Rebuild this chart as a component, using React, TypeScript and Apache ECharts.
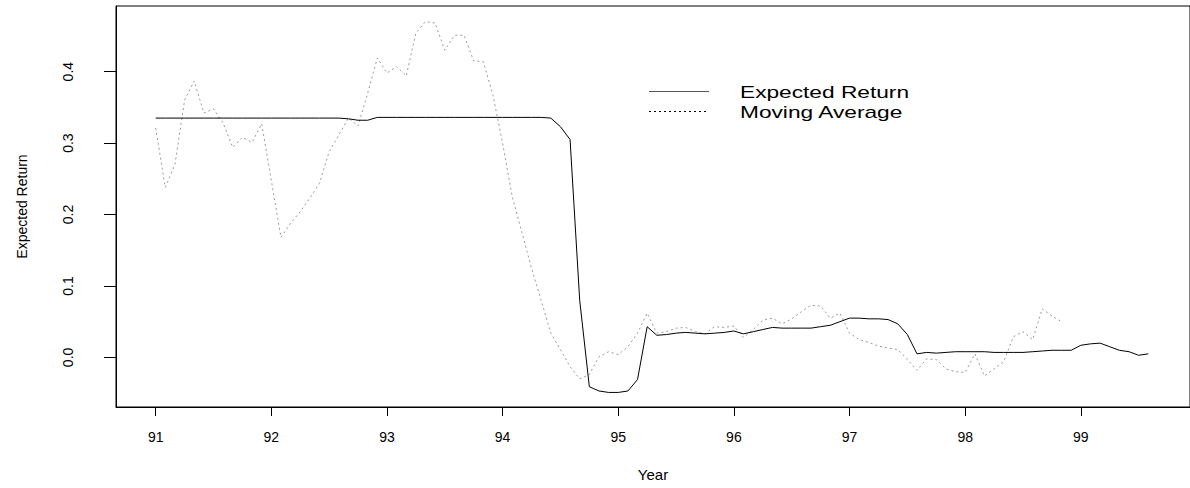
import { useEffect, useRef } from "react";
import * as echarts from "echarts";

// Monthly observations starting at year 91
const START_YEAR = 91;
const MONTHS_PER_YEAR = 12;

const expectedReturn = [
  0.335, 0.335, 0.335, 0.335, 0.335, 0.335, 0.335, 0.335, 0.335, 0.335,
  0.335, 0.335, 0.335, 0.335, 0.335, 0.335, 0.335, 0.335, 0.335, 0.335,
  0.334, 0.332, 0.332, 0.336, 0.336, 0.336, 0.336, 0.336, 0.336, 0.336,
  0.336, 0.336, 0.336, 0.336, 0.336, 0.336, 0.336, 0.336, 0.336, 0.336,
  0.336, 0.335, 0.323, 0.305, 0.080, -0.041, -0.047, -0.049, -0.049, -0.047,
  -0.031, 0.043, 0.031, 0.032, 0.034, 0.035, 0.034, 0.033, 0.034, 0.035,
  0.037, 0.033, 0.036, 0.039, 0.042, 0.041, 0.041, 0.041, 0.041, 0.043,
  0.045, 0.050, 0.055, 0.055, 0.054, 0.054, 0.053, 0.047, 0.032, 0.005,
  0.007, 0.006, 0.007, 0.008, 0.008, 0.008, 0.008, 0.007, 0.007, 0.007,
  0.007, 0.008, 0.009, 0.010, 0.010, 0.010, 0.017, 0.019, 0.020, 0.015,
  0.010, 0.008, 0.003, 0.005,
];

const movingAverage = [
  0.321, 0.238, 0.270, 0.360, 0.387, 0.342, 0.348, 0.328, 0.294, 0.308,
  0.301, 0.327, 0.248, 0.168, 0.188, 0.204, 0.223, 0.244, 0.288, 0.311,
  0.335, 0.324, 0.370, 0.419, 0.398, 0.407, 0.394, 0.454, 0.470, 0.468,
  0.430, 0.451, 0.451, 0.415, 0.414, 0.367, 0.300, 0.225, 0.175, 0.125,
  0.080, 0.034, 0.011, -0.013, -0.030, -0.024, 0.001, 0.008, 0.004, 0.015,
  0.034, 0.062, 0.034, 0.036, 0.041, 0.042, 0.036, 0.033, 0.043, 0.042,
  0.044, 0.028, 0.039, 0.052, 0.055, 0.047, 0.054, 0.064, 0.073, 0.072,
  0.055, 0.062, 0.034, 0.025, 0.021, 0.016, 0.013, 0.011, -0.003, -0.018,
  -0.002, -0.003, -0.016, -0.020, -0.021, 0.005, -0.026, -0.016, -0.006, 0.029,
  0.036, 0.025, 0.068, 0.058, 0.050,
];

const xTicks = [91, 92, 93, 94, 95, 96, 97, 98, 99];
const yTicks = [0, 0.1, 0.2, 0.3, 0.4];
const seriesNames = ["Expected Return", "Moving Average"];
const xTitle = "Year";
const yTitle = "Expected Return";

const FONT = "'Liberation Sans', Arial, Helvetica, sans-serif";

export default function App() {
  const ref = useRef<HTMLDivElement>(null);

  useEffect(() => {
    const chart = echarts.init(ref.current!, null, { renderer: "svg" });
    const toPairs = (arr: number[]) =>
      arr.map((v, i) => [START_YEAR + i / MONTHS_PER_YEAR, v]);

    chart.setOption({
      animation: false,
      backgroundColor: "#fff",
      textStyle: { fontFamily: FONT },
      grid: {
        left: 116,
        top: 6,
        width: 1077,
        height: 401,
        show: true,
        borderColor: "#000",
        borderWidth: 1,
        backgroundColor: "transparent",
      },
      xAxis: {
        type: "value",
        min: 90.657,
        max: 99.944,
        name: xTitle,
        nameLocation: "middle",
        nameGap: 60,
        nameTextStyle: { fontSize: 15, color: "#000", fontFamily: FONT },
        axisLine: { show: true, onZero: false, lineStyle: { color: "#000", width: 1 } },
        axisTick: {
          show: true,
          length: 9,
          customValues: xTicks,
          lineStyle: { color: "#000", width: 1 },
        },
        axisLabel: {
          customValues: xTicks,
          margin: 23,
          fontSize: 14,
          color: "#000",
          fontFamily: FONT,
          formatter: (v: number) => String(Math.round(v)),
        },
        splitLine: { show: false },
      },
      yAxis: {
        type: "value",
        min: -0.0694,
        max: 0.4919,
        name: yTitle,
        nameLocation: "middle",
        nameRotate: 90,
        nameGap: 87,
        nameTextStyle: { fontSize: 14, color: "#000", fontFamily: FONT },
        axisLine: { show: true, onZero: false, lineStyle: { color: "#000", width: 1 } },
        axisTick: {
          show: true,
          length: 12,
          customValues: yTicks,
          lineStyle: { color: "#000", width: 1 },
        },
        axisLabel: {
          customValues: yTicks,
          rotate: 90,
          margin: 41,
          fontSize: 14,
          color: "#000",
          fontFamily: FONT,
          formatter: (v: number) => v.toFixed(1),
        },
        splitLine: { show: false },
      },
      series: [
        {
          type: "line",
          name: seriesNames[0],
          data: toPairs(expectedReturn),
          symbol: "none",
          lineStyle: { color: "#000", width: 1 },
          z: 3,
        },
        {
          type: "line",
          name: seriesNames[1],
          data: toPairs(movingAverage),
          symbol: "none",
          lineStyle: { color: "#999", width: 1, type: [2, 3] },
          z: 2,
        },
      ],
      graphic: [
        {
          type: "line",
          shape: { x1: 649, y1: 91.5, x2: 709, y2: 91.5 },
          style: { stroke: "#555", lineWidth: 1 },
        },
        {
          type: "line",
          shape: { x1: 649, y1: 111.5, x2: 709, y2: 111.5 },
          style: { stroke: "#000", lineWidth: 1, lineDash: [2, 3] },
        },
        {
          type: "text",
          x: 740,
          y: 92,
          scaleX: 1.42,
          style: {
            text: seriesNames[0],
            fontSize: 16,
            fontFamily: FONT,
            fill: "#000",
            verticalAlign: "middle",
            align: "left",
          },
        },
        {
          type: "text",
          x: 740,
          y: 112,
          scaleX: 1.42,
          style: {
            text: seriesNames[1],
            fontSize: 16,
            fontFamily: FONT,
            fill: "#000",
            verticalAlign: "middle",
            align: "left",
          },
        },
      ],
    });

    return () => chart.dispose();
  }, []);

  return (
    <div
      ref={ref}
      style={{ position: "absolute", left: 0, top: 0, width: 1190, height: 488 }}
    />
  );
}
